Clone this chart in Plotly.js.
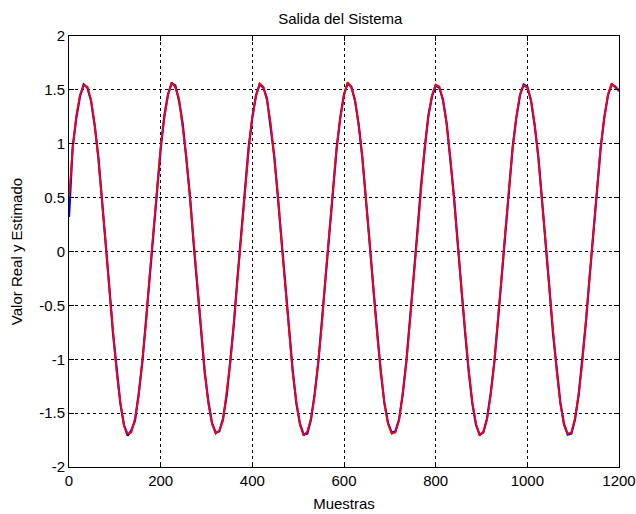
<!DOCTYPE html>
<html>
<head>
<meta charset="utf-8">
<script src="https://cdn.plot.ly/plotly-3.0.1.min.js"></script>
<style>html,body{margin:0;padding:0;background:#fff;}#chart{width:636px;height:514px;}</style>
</head>
<body>
<div id="chart"></div>
<script>
// Sample index (Muestras)
var muestras = [0,8,16,24,32,40,48,56,64,72,80,88,96,104,112,120,128,136,144,152,160,168,176,184,
192,200,208,216,224,232,240,248,256,264,272,280,288,296,304,312,320,328,336,344,352,360,368,376,
384,392,400,408,416,424,432,440,448,456,464,472,480,488,496,504,512,520,528,536,544,552,560,568,
576,584,592,600,608,616,624,632,640,648,656,664,672,680,688,696,704,712,720,728,736,744,752,760,
768,776,784,792,800,808,816,824,832,840,848,856,864,872,880,888,896,904,912,920,928,936,944,952,
960,968,976,984,992,1000,1008,1016,1024,1032,1040,1048,1056,1064,1072,1080,1088,1096,1104,1112,1120,1128,1136,1144,
1152,1160,1168,1176,1184,1192,1200];

// Valor real (blue)
var valorReal = [0.32,0.97,1.24,1.44,1.55,1.52,1.40,1.17,0.88,0.49,0.09,-0.33,-0.76,-1.10,-1.41,-1.61,-1.71,-1.66,-1.57,-1.32,-1.03,-0.64,-0.24,0.18,
0.61,0.95,1.26,1.46,1.56,1.54,1.40,1.19,0.86,0.51,0.07,-0.35,-0.74,-1.12,-1.39,-1.59,-1.68,-1.67,-1.55,-1.34,-1.01,-0.66,-0.22,0.20,
0.59,0.97,1.24,1.45,1.55,1.52,1.42,1.17,0.88,0.49,0.09,-0.33,-0.76,-1.10,-1.41,-1.60,-1.70,-1.69,-1.56,-1.32,-1.03,-0.64,-0.24,0.19,
0.60,0.96,1.25,1.46,1.56,1.53,1.40,1.18,0.87,0.50,0.08,-0.34,-0.75,-1.11,-1.40,-1.59,-1.68,-1.67,-1.56,-1.33,-1.02,-0.65,-0.23,0.18,
0.61,0.95,1.26,1.44,1.54,1.52,1.41,1.19,0.86,0.51,0.08,-0.35,-0.74,-1.11,-1.41,-1.61,-1.70,-1.68,-1.55,-1.32,-1.03,-0.64,-0.22,0.20,
0.59,0.97,1.24,1.45,1.55,1.53,1.40,1.17,0.88,0.49,0.09,-0.33,-0.76,-1.10,-1.40,-1.60,-1.70,-1.69,-1.56,-1.33,-1.02,-0.65,-0.23,0.19,
0.60,0.96,1.25,1.45,1.55,1.53,1.49];

// Valor estimado (red)
var valorEstimado = [0.50,0.95,1.26,1.45,1.54,1.53,1.41,1.18,0.86,0.50,0.08,-0.35,-0.74,-1.12,-1.40,-1.62,-1.69,-1.68,-1.55,-1.34,-1.01,-0.66,-0.22,0.20,
0.59,0.97,1.24,1.45,1.57,1.52,1.42,1.17,0.88,0.49,0.09,-0.33,-0.76,-1.10,-1.41,-1.60,-1.69,-1.66,-1.57,-1.32,-1.03,-0.64,-0.24,0.18,
0.61,0.95,1.26,1.44,1.56,1.53,1.40,1.19,0.86,0.51,0.07,-0.35,-0.74,-1.12,-1.39,-1.61,-1.71,-1.67,-1.55,-1.34,-1.01,-0.66,-0.22,0.20,
0.59,0.97,1.24,1.45,1.57,1.52,1.41,1.17,0.88,0.49,0.09,-0.33,-0.76,-1.10,-1.41,-1.60,-1.69,-1.68,-1.57,-1.32,-1.03,-0.64,-0.24,0.19,
0.60,0.96,1.25,1.45,1.55,1.53,1.40,1.18,0.87,0.50,0.09,-0.34,-0.75,-1.10,-1.40,-1.60,-1.71,-1.67,-1.56,-1.33,-1.02,-0.65,-0.23,0.19,
0.60,0.96,1.25,1.46,1.54,1.52,1.41,1.18,0.87,0.50,0.08,-0.34,-0.75,-1.11,-1.41,-1.61,-1.69,-1.68,-1.55,-1.32,-1.03,-0.64,-0.22,0.20,
0.59,0.97,1.24,1.46,1.56,1.52,1.50];

var xTicks = [0,200,400,600,800,1000,1200];
var xTickText = ['0','200','400','600','800','1000','1200'];
var yTicks = [-2,-1.5,-1,-0.5,0,0.5,1,1.5,2];
var yTickText = ['-2','-1.5','-1','-0.5','0','0.5','1','1.5','2'];

var FONT = 'Liberation Sans, Arial, Helvetica, sans-serif';

var traces = [
  {x: muestras, y: valorReal, type: 'scatter', mode: 'lines', name: 'Real',
   line: {color: '#0000ff', width: 2.2}},
  {x: muestras, y: valorEstimado, type: 'scatter', mode: 'lines', name: 'Estimado',
   line: {color: '#ff0000', width: 1.8}}
];

var axisCommon = {
  showline: true, linecolor: '#000', linewidth: 1, mirror: 'ticks',
  ticks: 'inside', ticklen: 5, tickcolor: '#000', tickwidth: 1,
  showgrid: true, gridcolor: '#000', gridwidth: 1, griddash: 'dot',
  zeroline: false, tickmode: 'array',
  tickfont: {family: FONT, size: 15, color: '#000'}
};

var layout = {
  width: 636, height: 514,
  margin: {l: 69, r: 17, t: 36, b: 47},
  paper_bgcolor: '#fff', plot_bgcolor: '#fff',
  showlegend: false,
  title: {text: 'Salida del Sistema', xref: 'container', yref: 'container',
          x: 0.535, xanchor: 'center', y: 0.963, yanchor: 'middle',
          font: {family: FONT, size: 15, color: '#000'}},
  xaxis: Object.assign({}, axisCommon, {
    range: [0, 1200], tickvals: xTicks, ticktext: xTickText,
    title: {text: 'Muestras', standoff: 10,
            font: {family: FONT, size: 15, color: '#000'}}
  }),
  yaxis: Object.assign({}, axisCommon, {
    range: [-2, 2], tickvals: yTicks, ticktext: yTickText,
    title: {text: 'Valor Real y Estimado', standoff: 12,
            font: {family: FONT, size: 15, color: '#000'}}
  })
};

Plotly.newPlot('chart', traces, layout, {staticPlot: true, displayModeBar: false});
</script>
</body>
</html>
